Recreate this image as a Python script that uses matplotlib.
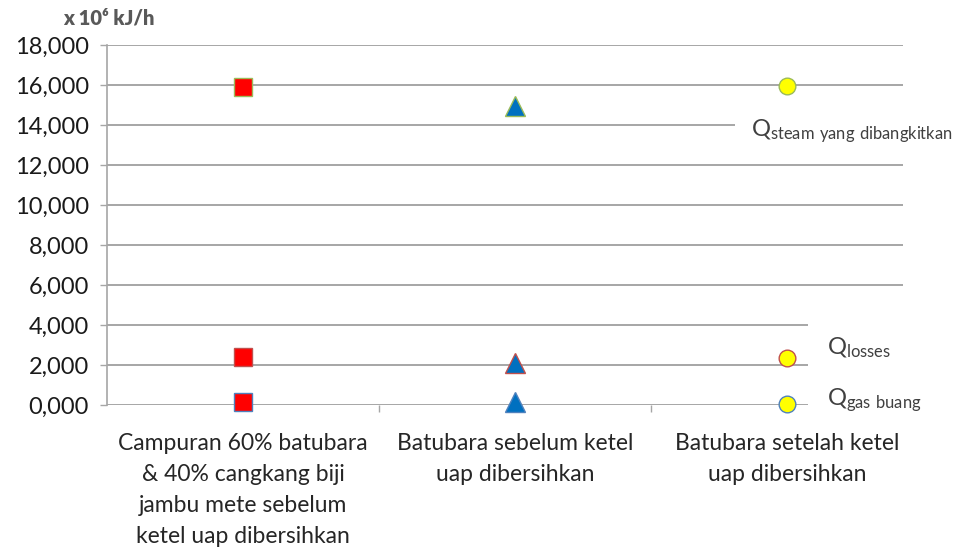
import matplotlib
matplotlib.use("Agg")
import matplotlib.pyplot as plt
from matplotlib.patches import Rectangle

plt.rcParams['font.family'] = ['Lato', 'DejaVu Sans']
plt.rcParams['mathtext.default'] = 'regular'

categories = [
    "Campuran 60% batubara\n& 40% cangkang biji\njambu mete sebelum\nketel uap dibersihkan",
    "Batubara sebelum ketel\nuap dibersihkan",
    "Batubara setelah ketel\nuap dibersihkan",
]
q_steam = [15900, 14950, 15950]
q_losses = [2400, 2100, 2350]
q_gas_buang = [150, 150, 30]

yticks = [0, 2000, 4000, 6000, 8000, 10000, 12000, 14000, 16000, 18000]
ytick_labels = ["0,000", "2,000", "4,000", "6,000", "8,000", "10,000",
                "12,000", "14,000", "16,000", "18,000"]

# one face/marker per category, one edge colour per series
cat_markers = ["s", "^", "o"]
cat_faces = ["#ff0000", "#0070c0", "#ffff00"]
cat_sizes = [13, 14, 12]
series = [
    (q_steam, "#9bbb59"),
    (q_losses, "#c0504d"),
    (q_gas_buang, "#4f81bd"),
]

W, H = 962, 550
fig = plt.figure(figsize=(W / 100, H / 100), dpi=100)
ax = fig.add_axes([107 / W, 1 - 405 / H, (903 - 107) / W, (405 - 45) / H])

for values, edge in series:
    for i, v in enumerate(values):
        ax.plot(i, v, linestyle="none", marker=cat_markers[i],
                markersize=cat_sizes[i], markerfacecolor=cat_faces[i],
                markeredgecolor=edge, markeredgewidth=1.0, zorder=3,
                clip_on=False)

ax.set_xlim(-0.5, (903 - 243) / 272)
ax.set_ylim(0, 18000)
ax.set_yticks(yticks)
ax.set_yticklabels(ytick_labels, fontsize=17, color="#1a1a1a")
ax.yaxis.grid(True, color="#a6a6a6", linewidth=1.4)
ax.set_axisbelow(True)

ax.set_xticks(range(len(categories)))
ax.set_xticklabels(categories, fontsize=16.5, color="#262626",
                   linespacing=1.6, ha="center", va="top")
ax.set_xticks([0.5, 1.5], minor=True)
ax.tick_params(axis="x", which="major", length=0, pad=20)
ax.tick_params(axis="x", which="minor", length=5, width=1, color="#a6a6a6")
ax.tick_params(axis="y", length=5, width=1, color="#a6a6a6", pad=8)

for s in ["top", "right", "bottom"]:
    ax.spines[s].set_visible(False)
ax.spines["left"].set_color("#a6a6a6")
ax.spines["left"].set_linewidth(1.2)

# unit label
fig.text(63 / W, 1 - 18 / H, "x 10\u2076 kJ/h", fontsize=14.5,
         fontweight="heavy", color="#595959", va="center", ha="left")

# white label panels on the right
for (x0, y0, x1, y1) in [(735, 110, 962, 152), (808, 320, 955, 415)]:
    fig.add_artist(Rectangle((x0 / W, 1 - y1 / H), (x1 - x0) / W, (y1 - y0) / H,
                             transform=fig.transFigure, facecolor="white",
                             edgecolor="none", zorder=2))

lab_kw = dict(fontsize=17, color="#404040", va="center", ha="left", zorder=3)
fig.text(751 / W, 1 - 131 / H, r"Q$_{steam\ yang\ dibangkitkan}$", **lab_kw)
fig.text(827 / W, 1 - 348 / H, r"Q$_{losses}$", **lab_kw)
fig.text(827 / W, 1 - 400 / H, r"Q$_{gas\ buang}$", **lab_kw)

fig.savefig("out.png", dpi=100, facecolor="white")
